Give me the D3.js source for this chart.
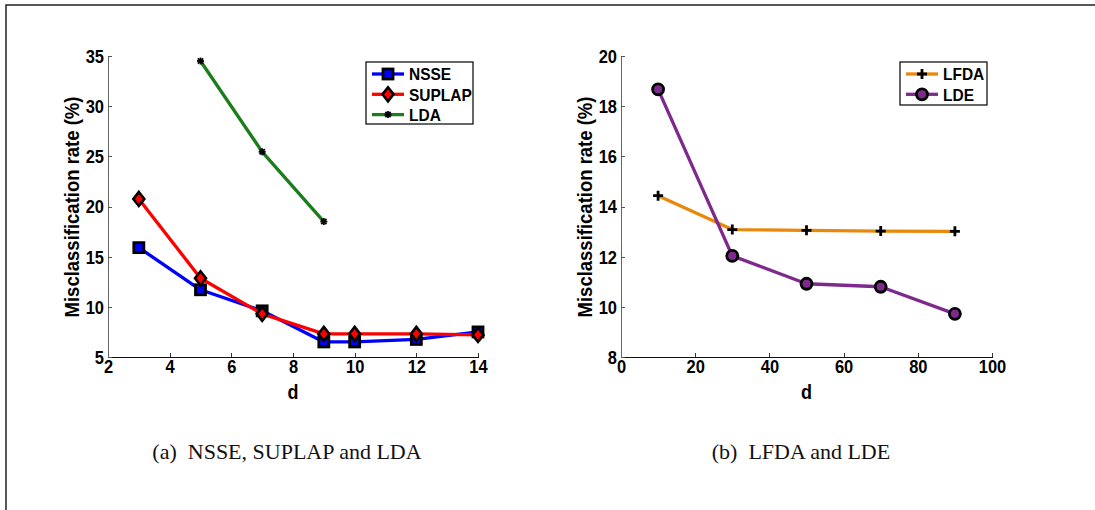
<!DOCTYPE html>
<html>
<head>
<meta charset="utf-8">
<script src="https://cdn.jsdelivr.net/npm/d3@7"></script>
<style>
  body { margin: 0; background: #fff; }
  svg { display: block; }
  .axis path, .axis line { shape-rendering: crispEdges; }
</style>
</head>
<body>
<svg id="chart"></svg>
<script>
// DATA
const dLeft = [3, 5, 7, 9, 10, 12, 14];
const nsse = [15.9, 11.7, 9.6, 6.5, 6.5, 6.75, 7.5];
const suplap = [20.75, 12.85, 9.3, 7.3, 7.3, 7.3, 7.2];
const dLda = [5, 7, 9];
const lda = [34.5, 25.45, 18.5];

const dRight = [10, 30, 50, 70, 90];
const lfda = [14.43, 13.08, 13.05, 13.02, 13.01];
const lde = [18.67, 12.03, 10.92, 10.8, 9.72];

const xTicksLeft = [2, 4, 6, 8, 10, 12, 14];
const yTicksLeft = [5, 10, 15, 20, 25, 30, 35];
const xTicksRight = [0, 20, 40, 60, 80, 100];
const yTicksRight = [8, 10, 12, 14, 16, 18, 20];

const width = 1095;
const height = 510;
const FONT = 'Liberation Sans, Arial, Helvetica, sans-serif';
const STRETCH = 1.12; // plot text looks a bit taller than wide

const svg = d3.select('#chart')
  .attr('width', width)
  .attr('height', height);

// outer frame (only top and left edges are visible)
svg.append('rect')
  .attr('x', 6).attr('y', 5)
  .attr('width', width).attr('height', height)
  .attr('fill', 'none')
  .attr('stroke', '#222')
  .attr('stroke-width', 1.5);

// MARKERS
function drawMarker(g, kind, x, y, color) {
  if (kind === 'square') {
    g.append('rect')
      .attr('x', x - 5).attr('y', y - 5)
      .attr('width', 10).attr('height', 10)
      .attr('fill', color).attr('stroke', '#000').attr('stroke-width', 2.8);
  } else if (kind === 'diamond') {
    g.append('path')
      .attr('d', `M${x},${y - 7}L${x + 5.5},${y}L${x},${y + 7}L${x - 5.5},${y}Z`)
      .attr('fill', color).attr('stroke', '#000').attr('stroke-width', 2.6);
  } else if (kind === 'star') {
    const r = 3.5;
    const p = [[0, -r, 0, r], [-r, 0, r, 0], [-r * .75, -r * .75, r * .75, r * .75], [-r * .75, r * .75, r * .75, -r * .75]];
    p.forEach(s => g.append('line')
      .attr('x1', x + s[0]).attr('y1', y + s[1]).attr('x2', x + s[2]).attr('y2', y + s[3])
      .attr('stroke', '#000').attr('stroke-width', 1.8));
  } else if (kind === 'plus') {
    g.append('path')
      .attr('d', `M${x - 5},${y}H${x + 5}M${x},${y - 5}V${y + 5}`)
      .attr('stroke', '#000').attr('stroke-width', 2.8);
  } else if (kind === 'circle') {
    g.append('circle')
      .attr('cx', x).attr('cy', y).attr('r', 5.5)
      .attr('fill', color).attr('stroke', '#000').attr('stroke-width', 2.8);
  }
}

function stretchedText(g, x, y, str, size, anchor, rotate) {
  const rot = rotate ? ` rotate(${rotate})` : '';
  return g.append('text')
    .attr('transform', `translate(${x},${y})${rot} scale(1,${STRETCH})`)
    .attr('text-anchor', anchor)
    .attr('font-family', FONT)
    .attr('font-weight', 'bold')
    .attr('font-size', size)
    .attr('fill', '#000')
    .text(str);
}

// PANEL
function panel(cfg) {
  const x = d3.scaleLinear().domain(cfg.xDomain).range([cfg.left, cfg.right]);
  const y = d3.scaleLinear().domain(cfg.yDomain).range([357, 56]);
  const g = svg.append('g');

  const xAxis = g.append('g').attr('class', 'axis')
    .attr('transform', 'translate(0,357)')
    .call(d3.axisBottom(x).tickValues(cfg.xTicks).tickSizeInner(-4).tickSizeOuter(0).tickPadding(3));
  xAxis.select('.domain').attr('stroke', '#111').attr('stroke-width', 1.5);
  xAxis.selectAll('line').attr('stroke', '#333');
  xAxis.selectAll('text')
    .attr('font-family', FONT).attr('font-weight', 'bold').attr('font-size', 16.5).attr('fill', '#000')
    .attr('transform', `scale(1,${STRETCH})`);

  const yAxis = g.append('g').attr('class', 'axis')
    .attr('transform', `translate(${cfg.left},0)`)
    .call(d3.axisLeft(y).tickValues(cfg.yTicks).tickSizeInner(-4).tickSizeOuter(0).tickPadding(4));
  yAxis.select('.domain').attr('stroke', '#666').attr('stroke-width', 1.5);
  yAxis.selectAll('line').attr('stroke', '#555');
  yAxis.selectAll('.tick').each(function (d) {
    const t = d3.select(this);
    t.select('text').remove();
    stretchedText(t, -4, 0, d, 16.5, 'end').attr('dy', '0.35em');
  });

  // axis titles
  stretchedText(g, (cfg.left + cfg.right) / 2, 399, 'd', 18, 'middle');
  stretchedText(g, cfg.yLabelX, 207, 'Misclassification rate (%)', 18.5, 'middle', -90)
    .attr('dy', '0.35em');

  // series
  const line = d3.line().x(d => x(d[0])).y(d => y(d[1]));
  cfg.series.forEach(s => {
    const pts = s.xs.map((v, i) => [v, s.ys[i]]);
    g.append('path')
      .datum(pts)
      .attr('d', line)
      .attr('fill', 'none')
      .attr('stroke', s.color)
      .attr('stroke-width', 3.3)
      .attr('stroke-linejoin', 'round');
    pts.forEach(p => drawMarker(g, s.marker, x(p[0]), y(p[1]), s.color));
  });

  // legend
  const lg = g.append('g');
  lg.append('rect')
    .attr('x', cfg.legend.x).attr('y', 62)
    .attr('width', cfg.legend.w).attr('height', cfg.legend.h)
    .attr('fill', '#fff').attr('stroke', '#000').attr('stroke-width', 1.2);
  cfg.series.forEach((s, i) => {
    const ly = 74 + i * 20.3;
    const lx = cfg.legend.x + 6;
    lg.append('line')
      .attr('x1', lx).attr('x2', lx + 32).attr('y1', ly).attr('y2', ly)
      .attr('stroke', s.color).attr('stroke-width', 3.3);
    drawMarker(lg, s.marker, lx + 16, ly, s.color);
    stretchedText(lg, lx + 37, ly, s.name, 15.5, 'start').attr('dy', '0.36em');
  });

  // caption
  g.append('text')
    .attr('x', cfg.captionX).attr('y', 459)
    .attr('text-anchor', 'middle')
    .attr('font-family', 'Liberation Serif, Times New Roman, serif')
    .attr('font-size', 22)
    .attr('fill', '#111')
    .attr('xml:space', 'preserve')
    .text(cfg.caption);
}

panel({
  xDomain: [2, 14], yDomain: [5, 35],
  left: 108, right: 478,
  xTicks: xTicksLeft, yTicks: yTicksLeft,
  yLabelX: 72,
  legend: { x: 366, w: 107, h: 62 },
  captionX: 287,
  caption: '(a)\u2002NSSE, SUPLAP and LDA',
  series: [
    { name: 'NSSE', xs: dLeft, ys: nsse, color: '#0000ff', marker: 'square' },
    { name: 'SUPLAP', xs: dLeft, ys: suplap, color: '#ff0000', marker: 'diamond' },
    { name: 'LDA', xs: dLda, ys: lda, color: '#1b7d1b', marker: 'star' }
  ]
});

panel({
  xDomain: [0, 100], yDomain: [8, 20],
  left: 621, right: 992,
  xTicks: xTicksRight, yTicks: yTicksRight,
  yLabelX: 585,
  legend: { x: 900, w: 87, h: 43 },
  captionX: 801,
  caption: '(b)\u2002LFDA and LDE',
  series: [
    { name: 'LFDA', xs: dRight, ys: lfda, color: '#e8890c', marker: 'plus' },
    { name: 'LDE', xs: dRight, ys: lde, color: '#7d2a8c', marker: 'circle' }
  ]
});
</script>
</body>
</html>
